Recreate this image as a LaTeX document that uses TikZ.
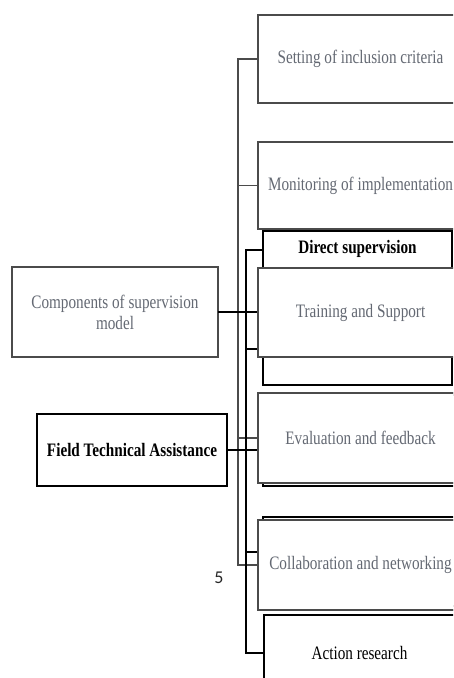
\documentclass[tikz,border=0pt]{standalone}
\usepackage{fontspec}
\setmainfont{Liberation Serif}[FakeStretch=0.8]
\newfontfamily\numfont{Carlito}
\usetikzlibrary{calc}
\definecolor{gtext}{RGB}{100,105,115}
\definecolor{gline}{RGB}{75,75,75}
\begin{document}
\begin{tikzpicture}[x=1pt,y=-1pt,
  every node/.style={font=\fontsize{19}{21}\selectfont, inner sep=0pt, outer sep=0pt},
  gbox/.style={draw=gline, line width=1.4pt, fill=white, text=gtext, align=center},
  bbox/.style={draw=black, line width=1.4pt, fill=white, text=black, align=center},
  glin/.style={draw=gline, line width=1.4pt},
  blin/.style={draw=black, line width=1.5pt},
  lbl/.style={text=black}]
\useasboundingbox (0,0) rectangle (453,678);
\clip (0,0) rectangle (453,678);
\fill[white] (0,0) rectangle (453,678);

% trunk anchors
\coordinate (tA) at (238,0);
\coordinate (tB) at (246,0);

% boxes behind
\node[bbox, minimum width=189pt, minimum height=154pt] (dir) at (357.5,308) {};
\node[lbl, font=\fontsize{19}{21}\selectfont\bfseries] (dirt) at (357.5,249) {Direct supervision};
\node[bbox, minimum width=197pt, minimum height=91pt] (hid1) at (361.5,440.5) {};
\node[bbox, minimum width=197pt, minimum height=89pt] (hid2) at (361.5,561.5) {};

% connector coordinates
\coordinate (b1) at (0,250);
\coordinate (b2) at (0,349);
\coordinate (b4) at (0,552);

% trunk A (gray)
\node[gbox, minimum width=205pt, minimum height=88pt] (set) at (360.5,59) {Setting of inclusion criteria};
\node[gbox, minimum width=205pt, minimum height=87pt] (mon) at (360.5,185.5) {Monitoring of implementation};
\node[gbox, minimum width=205pt, minimum height=90pt] (eva) at (360.5,438) {Evaluation and feedback};
\node[gbox, minimum width=205pt, minimum height=90pt] (col) at (360.5,565) {Collaboration and networking};

\draw[glin] (set.west) -- (set.west -| tA) -- (col.west -| tA) -- (col.west);
\draw[glin] (mon.west -| tA) -- (mon.west);
\draw[glin] (eva.west -| tA) -- (eva.west);

% trunk B (black)
\node[bbox, minimum width=191pt, minimum height=76pt] (act) at (359.5,653) {Action research};
\draw[blin] (dir.west |- b1) -- (tB |- b1) -- (act.west -| tB) -- (act.west);
\draw[blin] (tB |- b2) -- (dir.west |- b2);
\draw[blin] (tB |- b4) -- (hid2.west |- b4);

% left boxes
\node[gbox, minimum width=206pt, minimum height=90pt] (com) at (115,312) {Components of supervision\\model};
\node[bbox, minimum width=190pt, minimum height=72pt, font=\fontsize{19}{21}\selectfont\bfseries] (fta) at (132,450) {Field Technical Assistance};

\draw[blin] (fta.east) -- (fta.east -| hid1.west);
\draw[blin, line width=1.3pt] (com.east) -- (com.east -| dir.west);

% front boxes (drawn over the ones behind)
\node[gbox, minimum width=205pt, minimum height=89pt] (tra) at (360.5,312.5) {Training and Support};
\node[gbox, minimum width=205pt, minimum height=90pt] at (eva) {Evaluation and feedback};
\node[gbox, minimum width=205pt, minimum height=90pt] at (col) {Collaboration and networking};

\node[font=\numfont\fontsize{18}{20}\selectfont, text=black!85] (five) at (219,578) {5};
\end{tikzpicture}
\end{document}
